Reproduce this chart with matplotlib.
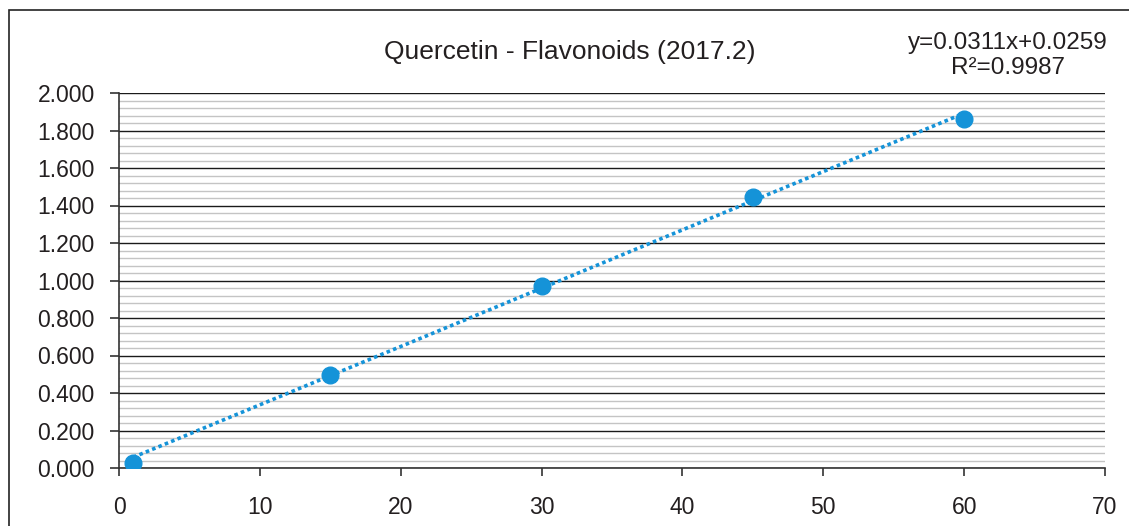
import numpy as np
import matplotlib.pyplot as plt
from matplotlib.patches import Rectangle
from matplotlib.ticker import MultipleLocator, FormatStrFormatter

plt.rcParams['font.family'] = ['Liberation Sans', 'DejaVu Sans']

# Quercetin calibration points
conc = [1, 15, 30, 45, 60]
absorb = [0.027, 0.496, 0.971, 1.445, 1.861]

# trendline coefficients as printed on the chart
slope = 0.0311
intercept = 0.0259
r2 = 0.9987

blue = '#1593D8'

fig = plt.figure(figsize=(11.29, 5.26), dpi=100)
ax = fig.add_axes([119 / 1129, 58 / 526, 986 / 1129, 375 / 526])

# outer chart frame (cut off at right and bottom in the original)
fig.patches.append(Rectangle((9 / 1129, -0.1), 1.2, 0.1 + 516 / 526,
                             transform=fig.transFigure, fill=False,
                             edgecolor='#222222', linewidth=1.2))

trend_x = np.array([conc[0], conc[-1]])
ax.plot(trend_x, slope * trend_x + intercept, color=blue, lw=2.6,
        linestyle=(0, (1, 0.9)), zorder=3)
ax.plot(conc, absorb, 'o', color=blue, markersize=12, zorder=4)

ax.set_xlim(0, 70)
ax.set_ylim(0, 2.0)
ax.xaxis.set_major_locator(MultipleLocator(10))
ax.yaxis.set_major_locator(MultipleLocator(0.2))
ax.yaxis.set_minor_locator(MultipleLocator(0.04))
ax.yaxis.set_major_formatter(FormatStrFormatter('%.3f'))

ax.grid(True, which='major', axis='y', color='#1a1a1a', lw=1.0)
ax.grid(True, which='minor', axis='y', color='#c4c4c4', lw=1.0)
ax.set_axisbelow(True)

for s in ['top', 'right']:
    ax.spines[s].set_visible(False)
for s in ['left', 'bottom']:
    ax.spines[s].set_color('#333333')
    ax.spines[s].set_linewidth(1.2)

ax.tick_params(axis='y', which='major', length=6.5, width=1.2, color='#333333',
               labelsize=16.5, pad=11, labelcolor='#231f20')
ax.tick_params(axis='y', which='minor', length=0)
ax.tick_params(axis='x', length=6, width=1.2, color='#333333',
               labelsize=16.5, pad=14, labelcolor='#231f20')

fig.text(570 / 1129, 1 - 52 / 526, 'Quercetin - Flavonoids (2017.2)',
         ha='center', va='center', fontsize=19, color='#231f20')
fig.text(1008 / 1129, 1 - 43 / 526, 'y=%.4fx+%.4f' % (slope, intercept),
         ha='center', va='center', fontsize=17.5, color='#231f20')
fig.text(1008 / 1129, 1 - 68 / 526, 'R\u00b2=%.4f' % r2,
         ha='center', va='center', fontsize=17.5, color='#231f20')

fig.savefig('out.png', dpi=100)
